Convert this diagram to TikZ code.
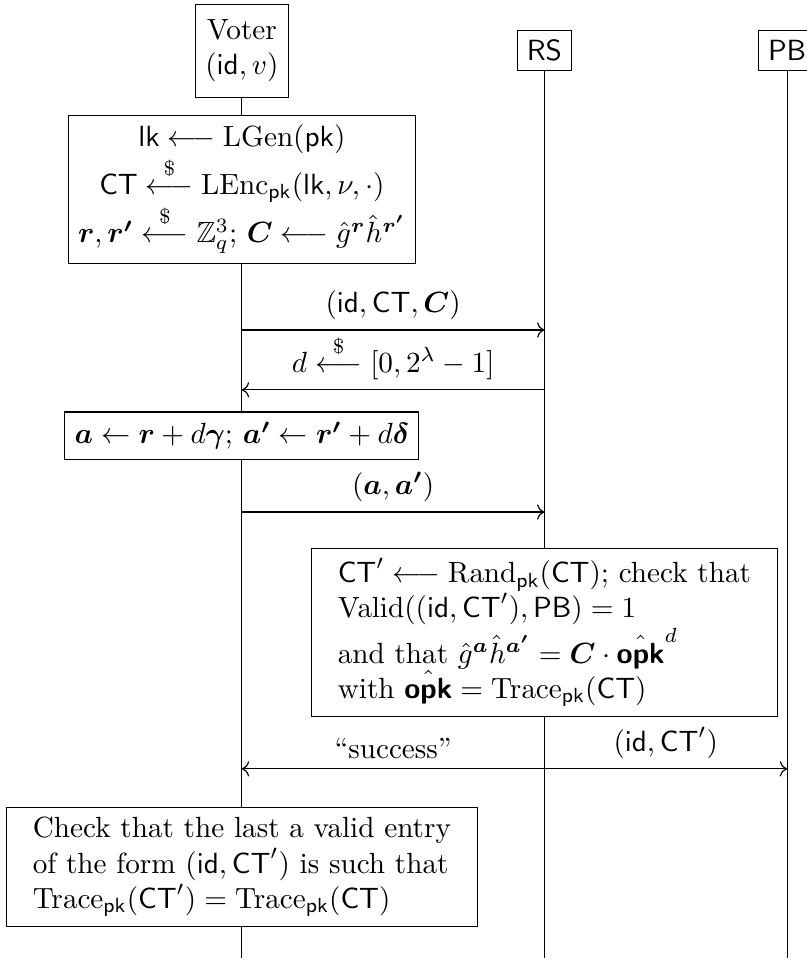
\documentclass[tikz,border=0pt]{standalone}
\usepackage{amsmath,amssymb,bm}
\usetikzlibrary{arrows.meta,positioning}
\newcommand{\pk}{\mathsf{pk}}
\newcommand{\lk}{\mathsf{lk}}
\newcommand{\CTx}{\mathsf{CT}}
\newcommand{\idv}{\mathsf{id}}
\newcommand{\opk}{\hat{\text{\sffamily\bfseries opk}}}
\newcommand{\sample}{\mathrel{\overset{\raisebox{0.8pt}{$\scriptstyle\$$}}{\longleftarrow}}}
\tikzset{
  party/.style={
    draw,
    fill=white,
    align=center
  },
  stepbox/.style={
    draw,
    fill=white,
    align=center
  },
  notebox/.style={
    draw,
    fill=white,
    align=left,
    inner xsep=9pt
  },
  lifeline/.style={draw,line width=0.4pt},
  msg/.style={->,line width=0.4pt},
  msglabel/.style={above,midway}
}

\begin{document}
\begin{tikzpicture}
  \useasboundingbox (0,0) rectangle (9.70,-11.55);

  % lifelines
  \coordinate (voterend) at (2.91,-11.53);
  \coordinate (rsend) at (6.55,-11.53);
  \coordinate (pbend) at (9.47,-11.53);
  \draw[lifeline] (2.91,-0.61) -- (voterend);
  \draw[lifeline] (6.55,-0.61) -- (rsend);
  \draw[lifeline] (9.47,-0.61) -- (pbend);

  \node[party,minimum height=1.12cm] (voter) at (2.91,-0.61) {Voter\\$(\idv,v)$};
  \node[party] (rs) at (6.55,-0.61) {$\mathsf{RS}$};
  \node[party] (pb) at (9.47,-0.61) {$\mathsf{PB}$};

  \node[stepbox] (setup) at (2.91,-2.28) {%
    $\lk \longleftarrow \mathrm{LGen}(\pk)$\\
    $\CTx \sample \mathrm{LEnc}_{\pk}(\lk,\nu,\cdot)$\\
    $\bm{r},\bm{r'} \sample \mathbb{Z}_q^3;\, \bm{C} \longleftarrow \hat{g}^{\bm{r}}\hat{h}^{\bm{r'}}$};

  % commitment and challenge
  \coordinate (v1) at (2.91,-3.97);
  \coordinate (r1) at (6.55,-3.97);
  \draw[msg] (v1) -- (r1) node[msglabel] {$(\idv,\CTx,\bm{C})$};
  \coordinate (v2) at (2.91,-4.69);
  \coordinate (r2) at (6.55,-4.69);
  \draw[msg] (r2) -- (v2) node[msglabel] {$d \sample [0,2^{\lambda}-1]$};

  \node[stepbox] (answer) at (2.91,-5.24)
    {$\bm{a} \leftarrow \bm{r} + d\bm{\gamma};\, \bm{a'} \leftarrow \bm{r'} + d\bm{\delta}$};

  \coordinate (v3) at (2.91,-6.16);
  \coordinate (r3) at (6.55,-6.16);
  \draw[msg] (v3) -- (r3) node[msglabel] {$(\bm{a},\bm{a'})$};

  \node[notebox] (check) at (6.55,-7.61) {%
    $\CTx' \longleftarrow \mathrm{Rand}_{\pk}(\CTx)$; check that\\
    $\mathrm{Valid}((\idv,\CTx'),\mathsf{PB}) = 1$\\
    and that $\hat{g}^{\bm{a}}\hat{h}^{\bm{a'}} = \bm{C}\cdot\opk^{d}$\\
    with $\opk = \mathrm{Trace}_{\pk}(\CTx)$};

  % result to voter and board
  \coordinate (v4) at (2.91,-9.25);
  \coordinate (r4) at (6.55,-9.25);
  \coordinate (p4) at (9.47,-9.25);
  \draw[msg] (r4) -- (v4) node[msglabel] {``success''};
  \draw[msg] (r4) -- (p4) node[msglabel] {$(\idv,\CTx')$};

  \node[notebox] (final) at (2.91,-10.43) {%
    Check that the last a valid entry\\
    of the form $(\idv,\CTx')$ is such that\\
    $\mathrm{Trace}_{\pk}(\CTx') = \mathrm{Trace}_{\pk}(\CTx)$};
\end{tikzpicture}
\end{document}
